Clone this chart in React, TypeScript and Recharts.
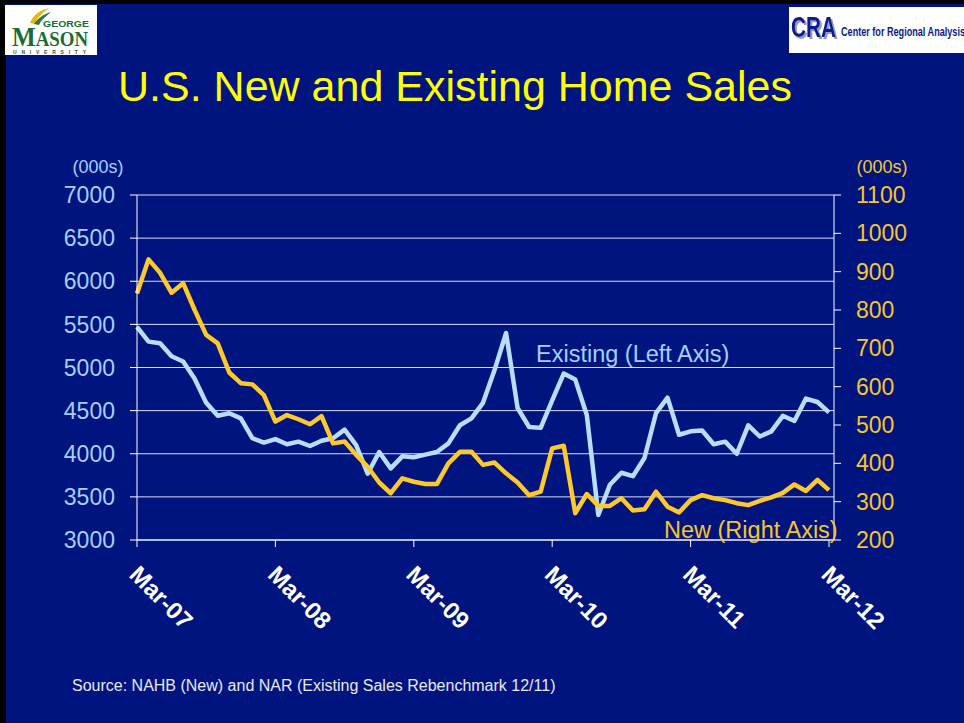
import { LineChart, Line, XAxis, YAxis, CartesianGrid } from 'recharts';

const months = [
  'Mar-07', 'Apr-07', 'May-07', 'Jun-07', 'Jul-07', 'Aug-07', 'Sep-07', 'Oct-07', 'Nov-07', 'Dec-07', 'Jan-08', 'Feb-08',
  'Mar-08', 'Apr-08', 'May-08', 'Jun-08', 'Jul-08', 'Aug-08', 'Sep-08', 'Oct-08', 'Nov-08', 'Dec-08', 'Jan-09', 'Feb-09',
  'Mar-09', 'Apr-09', 'May-09', 'Jun-09', 'Jul-09', 'Aug-09', 'Sep-09', 'Oct-09', 'Nov-09', 'Dec-09', 'Jan-10', 'Feb-10',
  'Mar-10', 'Apr-10', 'May-10', 'Jun-10', 'Jul-10', 'Aug-10', 'Sep-10', 'Oct-10', 'Nov-10', 'Dec-10', 'Jan-11', 'Feb-11',
  'Mar-11', 'Apr-11', 'May-11', 'Jun-11', 'Jul-11', 'Aug-11', 'Sep-11', 'Oct-11', 'Nov-11', 'Dec-11', 'Jan-12', 'Feb-12',
  'Mar-12',
];

// existing home sales, 000s (left axis)
const existing = [
  5470, 5300, 5280, 5130, 5070, 4870, 4590, 4440, 4470, 4410, 4180, 4130,
  4170, 4110, 4140, 4090, 4150, 4180, 4280, 4100, 3770, 4020, 3830, 3970,
  3960, 3990, 4020, 4120, 4330, 4410, 4590, 4970, 5400, 4530, 4310, 4300,
  4620, 4930, 4860, 4450, 3290, 3640, 3780, 3740, 3950, 4470, 4650, 4220,
  4260, 4270, 4110, 4140, 4000, 4330, 4200, 4260, 4440, 4380, 4640, 4600,
  4480,
];

// new home sales, 000s (right axis)
const newSales = [
  843, 932, 897, 845, 870, 800, 735, 713, 637, 609, 606, 578,
  509, 526, 515, 502, 523, 452, 457, 422, 391, 350, 322, 361,
  352, 346, 346, 400, 430, 430, 396, 402, 374, 350, 317, 326,
  439, 446, 270, 320, 289, 289, 309, 277, 280, 326, 287, 272,
  304, 317, 309, 304, 296, 291, 302, 311, 323, 345, 328, 357,
  330,
];

const leftTicks = [3000, 3500, 4000, 4500, 5000, 5500, 6000, 6500, 7000];
const rightTicks = [200, 300, 400, 500, 600, 700, 800, 900, 1000, 1100];

const data = months.map((m, i) => ({ month: m, existing: existing[i], newSales: newSales[i] }));

const FONT = '"Liberation Sans", Arial, sans-serif';
const NAVY = '#001480';
const BLUE = '#b8defe';
const GOLD = '#ffc92a';

function MonthTick({ x, y, payload }: any) {
  const tx = x - 9;
  const ty = y + 27;
  return (
    <text
      x={tx}
      y={ty}
      transform={`rotate(45, ${tx}, ${ty})`}
      fill="#ffffff"
      fontSize={24}
      fontWeight="bold"
      fontFamily={FONT}
      textAnchor="start"
    >
      {payload.value}
    </text>
  );
}

export default function App() {
  return (
    <div style={{ position: 'absolute', left: 0, top: 0, width: 964, height: 723, background: '#000', overflow: 'hidden' }}>
      <div style={{ position: 'absolute', left: 6, top: 4, width: 958, height: 719, background: NAVY }} />

      <LineChart
        width={964}
        height={723}
        data={data}
        margin={{ top: 195, right: 70, bottom: 123, left: 77 }}
        style={{ position: 'absolute', left: 0, top: 0 }}
      >
        <CartesianGrid yAxisId="left" vertical={false} stroke="#dcdff2" strokeWidth={1} />
        <XAxis
          dataKey="month"
          interval={11}
          height={60}
          padding={{ left: 0, right: 5 }}
          axisLine={{ stroke: '#ffffff' }}
          tickLine={{ stroke: '#ffffff' }}
          tickSize={7}
          tick={<MonthTick />}
        />
        <YAxis
          yAxisId="left"
          domain={[3000, 7000]}
          ticks={leftTicks}
          width={60}
          axisLine={{ stroke: '#ffffff' }}
          tickLine={{ stroke: '#ffffff' }}
          tickSize={7}
          tickMargin={15}
          tick={{ fill: '#a4d0ff', fontSize: 23, fontFamily: FONT }}
        />
        <YAxis
          yAxisId="right"
          orientation="right"
          domain={[200, 1100]}
          ticks={rightTicks}
          width={60}
          axisLine={{ stroke: '#ffffff' }}
          tickLine={{ stroke: '#ffffff' }}
          tickSize={7}
          tickMargin={15}
          tick={{ fill: '#f7c52c', fontSize: 23, fontFamily: FONT, textAnchor: 'start' }}
        />
        <Line
          yAxisId="left"
          type="linear"
          dataKey="existing"
          stroke={BLUE}
          strokeWidth={4.5}
          strokeLinejoin="round"
          dot={false}
          activeDot={false}
          isAnimationActive={false}
        />
        <Line
          yAxisId="right"
          type="linear"
          dataKey="newSales"
          stroke={GOLD}
          strokeWidth={4.5}
          strokeLinejoin="round"
          dot={false}
          activeDot={false}
          isAnimationActive={false}
        />
      </LineChart>

      <svg width={964} height={723} style={{ position: 'absolute', left: 0, top: 0, pointerEvents: 'none' }} fontFamily={FONT}>
        <defs>
          <filter id="craShadow" x="-10%" y="-10%" width="130%" height="140%">
            <feDropShadow dx="2" dy="2" stdDeviation="0.6" floodColor="#8f99cc" />
          </filter>
        </defs>

        {/* George Mason logo */}
        <rect x={5} y={5} width={92} height={50} fill="#ffffff" />
        <path d="M30 23 C33 15 40 10 49 8 C42 13 37 18 35 24 Z" fill="#e8b518" />
        <path d="M34 24 C38 18 44 14 51 12 C45 17 41 20 39 25 Z" fill="#2e7d32" />
        <text x={43} y={27} fontSize={8.5} fontWeight="bold" fill="#1b6b35" textLength={46} lengthAdjust="spacingAndGlyphs">GEORGE</text>
        <text x={12} y={46} fontWeight="bold" fontFamily='"Liberation Serif", serif' fill="#1b6b35" textLength={76} lengthAdjust="spacingAndGlyphs">
          <tspan fontSize={28}>M</tspan>
          <tspan fontSize={21}>ASON</tspan>
        </text>
        <text x={13} y={54} fontSize={5} fontWeight="bold" fill="#1b6b35" textLength={73} lengthAdjust="spacing">UNIVERSITY</text>

        {/* CRA logo */}
        <rect x={789} y={7} width={175} height={46} fill="#ffffff" />
        <text x={791} y={37} fontSize={29} fontWeight="bold" fill="#0a1a8c" textLength={45} lengthAdjust="spacingAndGlyphs" filter="url(#craShadow)">CRA</text>
        <text x={841} y={36} fontSize={13} fontWeight="bold" fill="#0a1a8c" fontFamily='"Liberation Sans Narrow", "Liberation Sans", sans-serif' textLength={124} lengthAdjust="spacingAndGlyphs">Center for Regional Analysis</text>

        <text x={455} y={101} fontSize={43} fill="#ffff00" textAnchor="middle">U.S. New and Existing Home Sales</text>

        <text x={98} y={173} fontSize={18} fill="#a4d0ff" textAnchor="middle">(000s)</text>
        <text x={882} y={173} fontSize={18} fill="#f7c52c" textAnchor="middle">(000s)</text>

        <text x={536} y={362} fontSize={23.5} fill="#a4d0ff">Existing (Left Axis)</text>
        <text x={664} y={538} fontSize={23.5} fill="#f7c52c">New (Right Axis)</text>

        <text x={72} y={691} fontSize={16} fill="#e8e8f4">Source: NAHB (New) and NAR (Existing Sales Rebenchmark 12/11)</text>
      </svg>
    </div>
  );
}
